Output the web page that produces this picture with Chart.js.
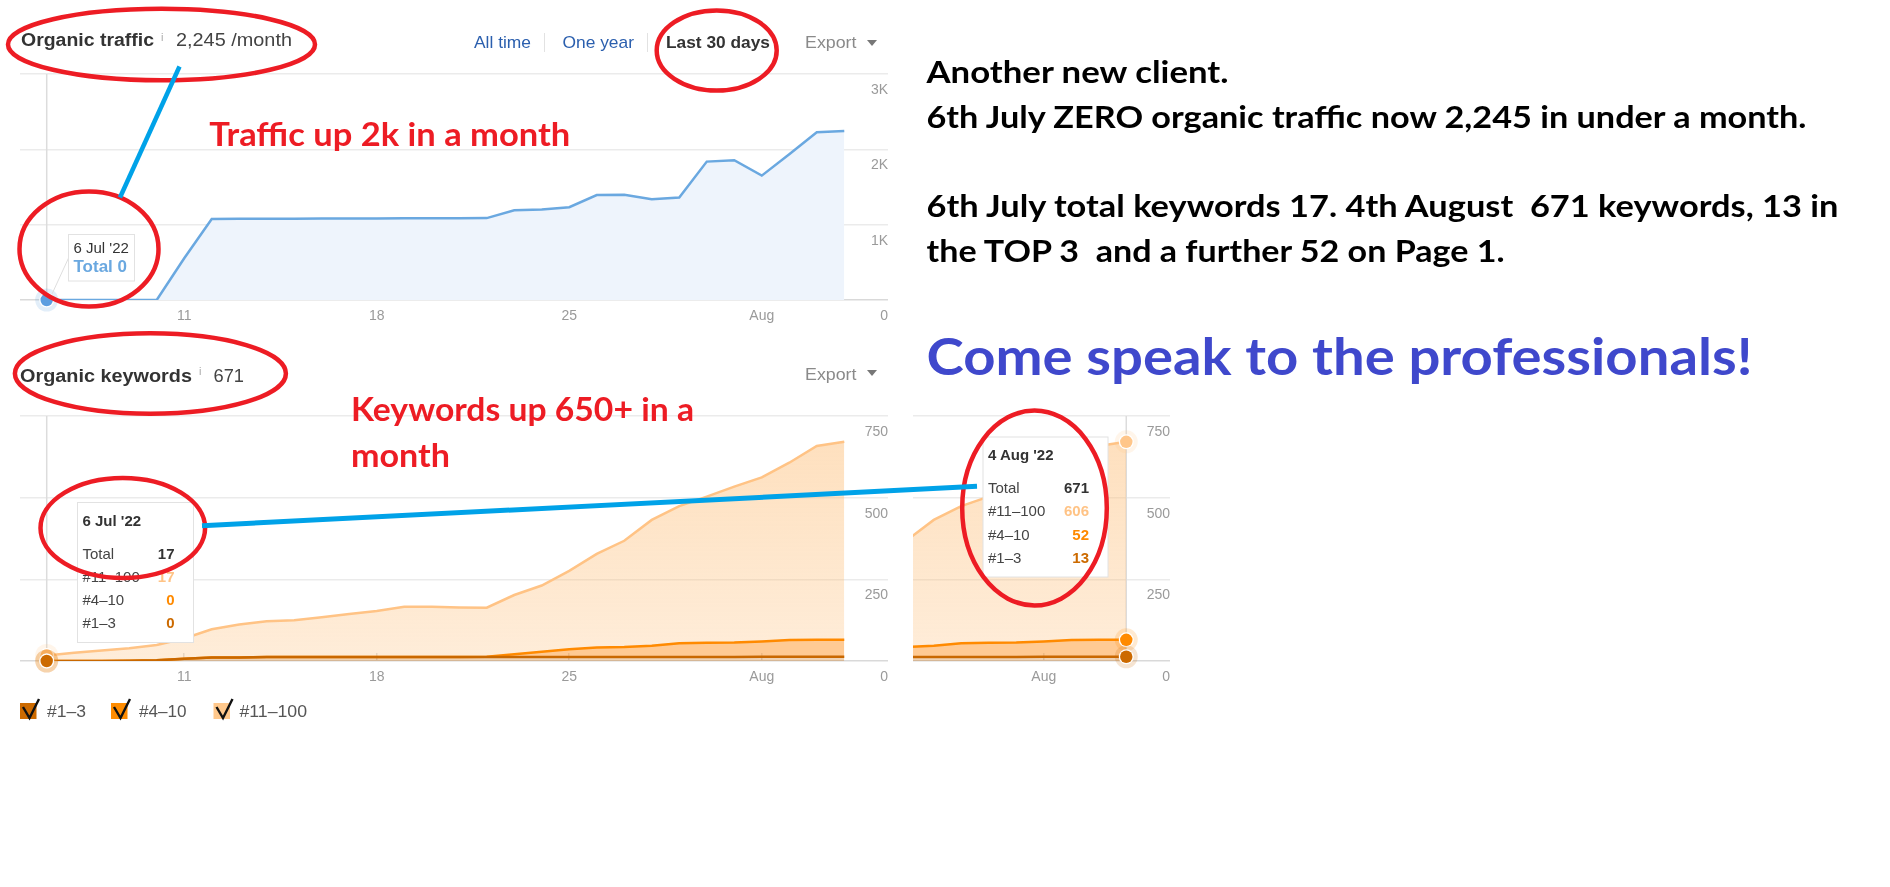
<!DOCTYPE html>
<html>
<head>
<meta charset="utf-8">
<title>Organic traffic and keywords</title>
<script src="https://cdn.jsdelivr.net/npm/chart.js@4.4.1/dist/chart.umd.min.js"></script>
<style>
	html, body { margin: 0; padding: 0; background: #fff; }
	body { width: 1890px; height: 887px; position: relative; overflow: hidden; }
	canvas { position: absolute; display: block; }
	#piece { position: absolute; left: 913px; top: 405px; width: 257px; height: 286px; overflow: hidden; }
	#overlay { position: absolute; left: 0; top: 0; }
</style>
</head>
<body>
<canvas id="chart-traffic" width="900" height="270" style="left:0;top:60px;width:900px;height:270px"></canvas>
<canvas id="chart-keywords" width="900" height="291" style="left:0;top:400px;width:900px;height:291px"></canvas>
<div id="piece">
	<canvas id="chart-keywords-end" width="900" height="291" style="left:-631px;top:-5px;width:900px;height:291px"></canvas>
</div>
<svg id="overlay" width="1890" height="887" xmlns="http://www.w3.org/2000/svg"></svg>

<script>
// Data
const DAYS = [
	"6 Jul '22", "7 Jul '22", "8 Jul '22", "9 Jul '22", "10 Jul '22", "11 Jul '22",
	"12 Jul '22", "13 Jul '22", "14 Jul '22", "15 Jul '22", "16 Jul '22", "17 Jul '22",
	"18 Jul '22", "19 Jul '22", "20 Jul '22", "21 Jul '22", "22 Jul '22", "23 Jul '22",
	"24 Jul '22", "25 Jul '22", "26 Jul '22", "27 Jul '22", "28 Jul '22", "29 Jul '22",
	"30 Jul '22", "31 Jul '22", "1 Aug '22", "2 Aug '22", "3 Aug '22", "4 Aug '22",
];
const TRAFFIC = [0, 0, 0, 0, 0, 555, 1076, 1078, 1079, 1080, 1081, 1082, 1083, 1084, 1085,
	1086, 1087, 1191, 1200, 1231, 1394, 1398, 1337, 1359, 1837, 1855, 1651, 1935, 2227, 2245];

const SERIES = ["#1\u20133", "#4\u201310", "#11\u2013100"];
const R13 = [0, 0, 0, 1, 2, 7, 11, 11, 12, 12, 12, 12, 12, 12, 12, 12, 12, 12,
	12, 12, 12, 12, 12, 12, 12, 12, 13, 13, 13, 13];
const R410 = [0, 0, 0, 0, 0, 0, 0, 0, 0, 0, 0, 0, 0, 0, 0, 0, 1, 9,
	16, 24, 29, 31, 35, 42, 44, 45, 47, 51, 52, 52];
const R11100 = [17, 25, 32, 38, 47, 62, 86, 101, 110, 113, 122, 132, 141, 154, 154, 152, 150, 181,
	203, 240, 287, 325, 385, 420, 447, 477, 502, 543, 593, 606];

const X_TICK_DAYS = [5, 12, 19, 26];
const X_TICK_LABELS = ["11", "18", "25", "Aug"];
const TRAFFIC_Y_TICKS = [0, 1000, 2000, 3000];
const TRAFFIC_Y_LABELS = ["0", "1K", "2K", "3K"];
const KW_Y_TICKS = [0, 250, 500, 750];

const UI_FONT = '"Liberation Sans", Arial, sans-serif';
const NOTE_FONT = 'Lato, "Noto Sans", sans-serif';
const KW_COLORS = ["#c96800", "#ff8a00", "#ffc385"];
const TRAFFIC_COLOR = "#6aa8e0";

Chart.defaults.font.family = UI_FONT;

const total = (i) => R13[i] + R410[i] + R11100[i];

// Hover line + highlighted points for the active day
const hoverMarks = {
	id: "hoverMarks",
	beforeDatasetsDraw(chart, args, opts) {
		const x = chart.scales.x.getPixelForValue(opts.index);
		const { top, bottom } = chart.chartArea;
		const c = chart.ctx;
		c.save();
		c.strokeStyle = "#dcdcdc";
		c.lineWidth = 1.5;
		c.beginPath();
		c.moveTo(x, top);
		c.lineTo(x, bottom);
		c.stroke();
		c.restore();
	},
	afterDatasetsDraw(chart, args, opts) {
		const c = chart.ctx;
		for (let d = chart.data.datasets.length - 1; d >= 0; d--) {
			const pt = chart.getDatasetMeta(d).data[opts.index];
			const col = chart.data.datasets[d].dotColor;
			c.save();
			c.fillStyle = col;
			c.globalAlpha = 0.18;
			c.beginPath(); c.arc(pt.x, pt.y, 11.5, 0, Math.PI * 2); c.fill();
			c.globalAlpha = 1;
			c.fillStyle = "#fff";
			c.beginPath(); c.arc(pt.x, pt.y, 7.5, 0, Math.PI * 2); c.fill();
			c.fillStyle = col;
			c.beginPath(); c.arc(pt.x, pt.y, 6.2, 0, Math.PI * 2); c.fill();
			c.restore();
		}
	},
};

const xAxis = () => ({
	type: "linear",
	min: -0.971,
	max: 30.59,
	afterBuildTicks: (axis) => { axis.ticks = X_TICK_DAYS.map((v) => ({ value: v })); },
	afterFit: (axis) => { axis.height = 30; },
	border: { display: false },
	grid: { drawOnChartArea: false, drawTicks: true, tickLength: -8, color: "#dddddd", lineWidth: 1.5 },
	ticks: {
		color: "#9a9a9a",
		font: { size: 14 },
		padding: 15.6,
		maxRotation: 0,
		autoSkip: false,
		callback: (v) => X_TICK_LABELS[X_TICK_DAYS.indexOf(v)],
	},
});

const yAxis = (ticks, labels, max, stacked) => ({
	position: "right",
	min: 0,
	max: max,
	stacked: stacked,
	afterBuildTicks: (axis) => { axis.ticks = ticks.map((v) => ({ value: v })); },
	afterFit: (axis) => { axis.width = 0; },
	border: { display: false },
	grid: {
		drawTicks: false,
		color: (ctx) => (ctx.tick && ctx.tick.value === 0 ? "#d9d9d9" : "#ebebeb"),
		lineWidth: 1.5,
	},
	ticks: {
		mirror: true,
		padding: 0,
		labelOffset: 16,
		color: "#9a9a9a",
		font: { size: 14 },
		callback: (v) => labels[ticks.indexOf(v)],
	},
});

const baseOptions = (hoverIndex, top, scales) => ({
	responsive: false,
	animation: false,
	devicePixelRatio: 1,
	layout: { padding: { left: 20, top: top, right: 12, bottom: 0 } },
	plugins: {
		legend: { display: false },
		title: { display: false },
		tooltip: { enabled: false },
		hoverMarks: { index: hoverIndex },
	},
	scales: scales,
});

// Traffic chart
new Chart(document.getElementById("chart-traffic"), {
	type: "line",
	data: {
		datasets: [
			{
				label: "Total",
				data: TRAFFIC.map((v, i) => ({ x: i, y: v })),
				borderColor: TRAFFIC_COLOR,
				backgroundColor: "#eef4fc",
				borderWidth: 2.5,
				fill: "origin",
				pointRadius: 0,
				tension: 0,
				dotColor: "#5d9ee0",
			},
		],
	},
	options: baseOptions(0, 14, {
		x: xAxis(),
		y: yAxis(TRAFFIC_Y_TICKS, TRAFFIC_Y_LABELS, 3000, false),
	}),
	plugins: [hoverMarks],
});

// Keywords chart (stacked areas)
const peachFill = (ctx) => {
	const area = ctx.chart.chartArea;
	if (!area) return "rgba(253,190,120,0.4)";
	const g = ctx.chart.ctx.createLinearGradient(0, area.top, 0, area.bottom);
	g.addColorStop(0, "rgba(253,190,120,0.5)");
	g.addColorStop(1, "rgba(253,190,120,0.28)");
	return g;
};

const keywordsConfig = (hoverIndex) => ({
	type: "line",
	data: {
		datasets: [
			{
				label: SERIES[0],
				data: R13.map((v, i) => ({ x: i, y: v })),
				borderColor: KW_COLORS[0],
				backgroundColor: "rgba(204,106,0,0.3)",
				fill: "origin",
				dotColor: "#cc6a00",
			},
			{
				label: SERIES[1],
				data: R410.map((v, i) => ({ x: i, y: v })),
				borderColor: KW_COLORS[1],
				backgroundColor: "rgba(255,150,40,0.5)",
				fill: "-1",
				dotColor: "#ff8a00",
			},
			{
				label: SERIES[2],
				data: R11100.map((v, i) => ({ x: i, y: v })),
				borderColor: KW_COLORS[2],
				backgroundColor: peachFill,
				fill: "-1",
				dotColor: "#ffc68a",
			},
		].map((ds) => ({ ...ds, borderWidth: 2.5, pointRadius: 0, tension: 0 })),
	},
	options: baseOptions(hoverIndex, 16, {
		x: xAxis(),
		y: yAxis(KW_Y_TICKS, KW_Y_TICKS.map(String), 750, true),
	}),
	plugins: [hoverMarks],
});

new Chart(document.getElementById("chart-keywords"), keywordsConfig(0));
new Chart(document.getElementById("chart-keywords-end"), keywordsConfig(DAYS.length - 1));

// Overlay: headers, tooltips, annotations
const svg = document.getElementById("overlay");
const add = (tag, attrs, text) => {
	const el = document.createElementNS("http://www.w3.org/2000/svg", tag);
	for (const k in attrs) el.setAttribute(k, attrs[k]);
	if (text != null) el.textContent = text;
	svg.appendChild(el);
	return el;
};
const ui = (x, y, size, fill, text, extra) =>
	add("text", { x, y, "font-family": UI_FONT, "font-size": size, fill, ...extra }, text);
const fit = (w) => ({ textLength: w, lengthAdjust: "spacingAndGlyphs" });

// traffic header
ui(21, 46, 18, "#333", "Organic traffic", { "font-weight": 700, ...fit(133) });
ui(161, 41, 11, "#aaa", "i");
ui(176, 46, 19, "#444", TRAFFIC[TRAFFIC.length - 1].toLocaleString("en-US") + " /month", fit(116));
ui(474, 48, 17, "#2b5fae", "All time", fit(57));
add("line", { x1: 544.5, y1: 33, x2: 544.5, y2: 52, stroke: "#e2e2e2" });
ui(562.5, 48, 17, "#2b5fae", "One year", fit(71.5));
add("line", { x1: 647.5, y1: 33, x2: 647.5, y2: 52, stroke: "#e2e2e2" });
ui(666, 48, 17, "#333", "Last 30 days", { "font-weight": 700, ...fit(104) });
ui(805, 48, 17, "#8a8a8a", "Export", fit(51.5));
add("path", { d: "M867 40 L877 40 L872 46 Z", fill: "#777" });

// keywords header
const last = DAYS.length - 1;
ui(20, 381.5, 18, "#333", "Organic keywords", { "font-weight": 700, ...fit(172) });
ui(199, 375, 11, "#aaa", "i");
ui(213.5, 381.5, 19, "#444", String(total(last)), fit(30.5));
ui(805, 379.5, 17, "#8a8a8a", "Export", fit(51.5));
add("path", { d: "M867 370 L877 370 L872 376 Z", fill: "#777" });

// traffic tooltip
add("line", { x1: 52, y1: 294, x2: 69, y2: 257, stroke: "#dedede" });
add("rect", { x: 68.5, y: 234.5, width: 66, height: 46.5, fill: "#fff", stroke: "#e2e2e2" });
ui(73.5, 253, 15, "#333", DAYS[0]);
ui(73.5, 272, 17, TRAFFIC_COLOR, "Total " + TRAFFIC[0], { "font-weight": 700 });

// keywords tooltips
const kwTip = (idx, x, y, w, h) => {
	add("rect", { x, y, width: w, height: h, fill: "#fff", stroke: "#e2e2e2" });
	const lx = x + 5, rx = x + w - 19;
	ui(lx, y + 23.4, 15, "#333", DAYS[idx], { "font-weight": 700 });
	const rows = [
		["Total", total(idx), "#333"],
		[SERIES[2], R11100[idx], "#ffc385"],
		[SERIES[1], R410[idx], "#ff8a00"],
		[SERIES[0], R13[idx], "#cc6a00"],
	];
	rows.forEach((r, i) => {
		const by = y + 56 + i * 23.3;
		ui(lx, by, 15, "#444", r[0]);
		ui(rx, by, 15, r[2], String(r[1]), { "font-weight": 700, "text-anchor": "end" });
	});
};
kwTip(0, 77.5, 502.5, 116, 140);
kwTip(last, 983, 437, 125, 140);

// legend
[[20, 47, 39], [111, 139, 47.6], [213.5, 239.4, 67.7]].forEach(([bx, tx, tw], i) => {
	add("rect", { x: bx, y: 703, width: 16.5, height: 16, fill: ["#cc6a00", "#ff8c00", "#ffc88c"][i] });
	add("path", { d: `M${bx + 3} 707 L${bx + 9.5} 718 L${bx + 19} 699`, stroke: "#111", "stroke-width": 2.4, fill: "none" });
	ui(tx, 717, 17, "#555", SERIES[i], fit(tw));
});

// red ellipses and blue connectors
const RED = "#ED1C24", BLUE = "#00A2E8";
[
	[161.5, 44.5, 153.5, 35.8],
	[716.7, 50.5, 60, 40],
	[89, 249, 69.5, 57.5],
	[150.4, 373.5, 135.5, 40.2],
	[122.8, 528, 82.3, 50],
	[1034.5, 508, 72.3, 97.5],
].forEach(([cx, cy, rx, ry]) => add("ellipse", { cx, cy, rx, ry, fill: "none", stroke: RED, "stroke-width": 4.5 }));
add("line", { x1: 179.5, y1: 66.5, x2: 120, y2: 197.5, stroke: BLUE, "stroke-width": 4.5 });
add("line", { x1: 202, y1: 525.7, x2: 977, y2: 486.3, stroke: BLUE, "stroke-width": 5 });

// notes
const note = (x, y, size, fill, text, w) =>
	add("text", { x, y, "font-family": NOTE_FONT, "font-weight": 700, "font-size": size, fill, ...fit(w) }, text);
note(209.3, 146, 33, RED, "Traffic up 2k in a month", 361);
note(351, 421, 33, RED, "Keywords up 650+ in a", 343);
note(351, 466.5, 33, RED, "month", 99);
note(926.5, 83.3, 31, "#000", "Another new client.", 302);
note(926.5, 128.3, 31, "#000", "6th July ZERO organic traffic now 2,245 in under a month.", 880);
note(926.5, 216.7, 31, "#000", "6th July total keywords 17. 4th August\u00a0 671 keywords, 13 in", 912);
note(926.5, 261.7, 31, "#000", "the TOP 3\u00a0 and a further 52 on Page 1.", 578);
note(926.5, 375, 52, "#3F48CC", "Come speak to the professionals!", 826);
</script>
</body>
</html>
